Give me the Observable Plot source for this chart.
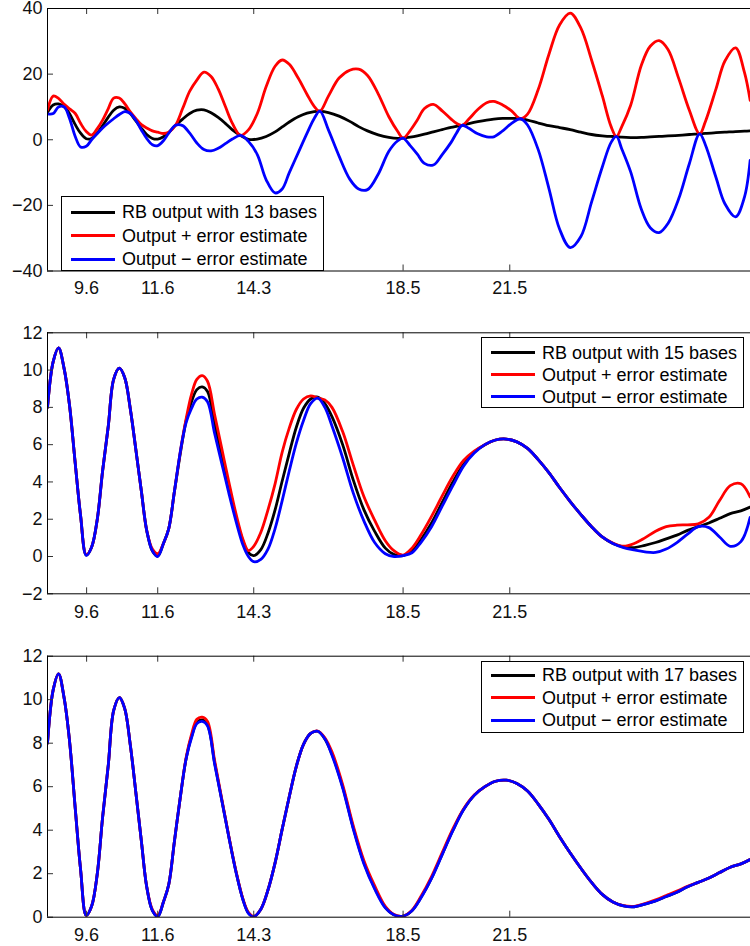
<!DOCTYPE html>
<html>
<head>
<meta charset="utf-8">
<script src="https://cdn.jsdelivr.net/npm/d3@7"></script>
<script src="https://cdn.jsdelivr.net/npm/@observablehq/plot@0.6"></script>
<style>
  html, body { margin: 0; padding: 0; background: #fff; overflow: hidden; }
  #chart { width: 750px; height: 946px; font-family: "Liberation Sans", Arial, Helvetica, sans-serif; }
  .panel { position: relative; width: 750px; overflow: hidden; }
  .panel svg { display: block; }
  .legend { position: absolute; width: 263px; background: #fff; border: 1px solid #000; box-sizing: border-box; font-size: 18px; color: #000; }
  .legend .row { position: absolute; left: 0; height: 22px; width: 100%; }
  .legend .sw { position: absolute; left: 9px; top: 9.5px; width: 44px; height: 3px; }
  .legend .tx { position: absolute; left: 60px; top: 0; line-height: 22px; white-space: nowrap; }
</style>
</head>
<body>
<div id="chart"></div>
<script>
// ---------- data ----------
const xTickValues = [9.6, 11.6, 14.3, 18.5, 21.5];
const xDomain = [8.5, 28.27];

const yTicks13 = [-40, -20, 0, 20, 40];
const yTicks15 = [-2, 0, 2, 4, 6, 8, 10, 12];
const yTicks17 = [0, 2, 4, 6, 8, 10, 12];

const labels13 = ["RB output with 13 bases", "Output + error estimate", "Output \u2212 error estimate"];
const labels15 = ["RB output with 15 bases", "Output + error estimate", "Output \u2212 error estimate"];
const labels17 = ["RB output with 17 bases", "Output + error estimate", "Output \u2212 error estimate"];

const seriesColors = ["#000000", "#ff0000", "#0000ff"];

// parameter samples, 13-basis panel
const x13 = [8.5, 8.66, 8.81, 8.97, 9.12, 9.28, 9.43, 9.59, 9.74, 9.9, 10.05, 10.21, 10.36, 10.52, 10.67, 10.83, 10.98, 11.14, 11.29, 11.45, 11.6, 11.76, 11.91, 12.1,
  12.3, 12.5, 12.7, 12.9, 13.1, 13.3, 13.5, 13.7, 13.93,
  14.15, 14.4, 14.65, 14.9, 15.1, 15.3, 15.55, 15.8, 16.0, 16.16,
  16.4, 16.7, 17.0, 17.25, 17.5, 17.8, 18.1, 18.35, 18.5,
  18.7, 18.9, 19.1, 19.35, 19.6, 19.85, 20.0, 20.16,
  20.35, 20.6, 20.85, 21.05, 21.3, 21.55, 21.8,
  22.0, 22.3, 22.6, 22.9, 23.2, 23.5, 23.8, 24.1, 24.35, 24.5,
  24.65, 24.9, 25.2, 25.45, 25.7, 25.95, 26.25, 26.55, 26.84,
  27.0, 27.3, 27.55, 27.85, 28.1, 28.26];

const out13 = [8.4, 10.6, 10.9, 10.0, 7.9, 4.6, 2.0, 0.3, 0.4, 2.0, 4.3, 6.9, 9.0, 10.0, 9.6, 8.0, 5.8, 3.5, 1.6, 0.4, 0.2, 0.9, 2.2, 4.4,
  6.3, 8.0, 9.0, 9.1, 8.2, 6.8, 5.0, 3.0, 1.3,
  0.15, 0.2, 1.0, 2.4, 3.9, 5.4, 7.0, 8.1, 8.6, 8.7,
  8.3, 7.2, 5.6, 4.0, 2.7, 1.5, 0.7, 0.4, 0.5,
  0.8, 1.2, 1.7, 2.4, 3.1, 3.8, 4.1, 4.4,
  4.9, 5.5, 6.0, 6.3, 6.5, 6.5, 6.4,
  6.0, 5.1, 4.3, 3.7, 3.1, 2.3, 1.6, 1.2, 1.0, 1.0,
  0.8, 0.65, 0.7, 0.85, 1.0, 1.15, 1.35, 1.6, 1.8,
  1.95, 2.15, 2.3, 2.5, 2.6, 2.7];

const plus13 = [9.0, 13.3, 12.6, 10.8, 9.4, 8.0, 5.0, 2.5, 1.4, 3.4, 6.0, 9.5, 12.7, 12.7, 11.0, 8.5, 6.5, 4.6, 3.6, 2.7, 2.3, 1.9, 2.3, 4.4,
  9.5, 14.8, 18.2, 20.6, 19.3, 15.5, 10.2, 5.0, 1.3,
  3.0, 8.0, 16.2, 22.4, 24.3, 23.0, 18.8, 13.8, 10.2, 8.7,
  13.3, 18.8, 21.2, 21.5, 19.6, 14.0, 7.0, 2.5, 0.5,
  2.8, 6.0, 9.5, 10.8, 8.8, 6.3, 5.0, 4.4,
  6.3, 9.2, 11.3, 11.7, 10.6, 8.8, 6.4,
  7.8, 15.3, 26.0, 35.0, 38.6, 34.0, 24.3, 13.5, 4.0, 1.0,
  4.0, 10.5, 22.7, 28.5, 30.2, 27.5, 18.7, 9.0, 1.8,
  5.5, 15.5, 24.0, 28.0, 20.5, 12.0];

const minus13 = [7.9, 8.0, 10.0, 10.0, 6.5, 1.0, -2.2, -2.0, 0.0, 1.9, 3.6, 5.1, 6.4, 7.7, 8.6, 8.0, 6.0, 3.0, 0.4, -1.5, -1.8, -0.3, 2.0, 4.4,
  4.3, 2.0, -1.0, -3.0, -3.4, -2.6, -1.2, 0.2, 1.3,
  -0.5, -4.5, -12.2, -16.2, -15.0, -10.0, -4.0, 2.0, 6.5, 8.7,
  3.0, -5.0, -12.0, -15.0, -15.2, -10.5, -3.5, -0.3, 0.5,
  -1.8, -4.4, -7.2, -7.7, -4.5, -0.8, 2.0, 4.4,
  3.5, 1.8, 0.9, 0.9, 2.7, 5.0, 6.4,
  4.5, -3.0, -14.8, -27.2, -32.9, -29.5, -19.0, -8.4, -0.8, 1.0,
  -2.8, -9.8, -21.2, -26.8, -28.3, -25.5, -18.0, -7.3, 1.8,
  -1.5, -11.5, -19.5, -23.5, -17.5, -6.3];

// parameter samples, 15- and 17-basis panels
const x15 = [8.5, 8.66, 8.81, 8.97, 9.12, 9.28, 9.43, 9.59, 9.74, 9.9, 10.05, 10.21, 10.36, 10.52, 10.67, 10.83, 10.98, 11.14, 11.29, 11.45, 11.6, 11.76, 11.91, 12.07,
  12.25, 12.4, 12.55, 12.7, 12.85, 13.0, 13.2, 13.4, 13.6, 13.8, 14.0, 14.15, 14.3,
  14.5, 14.7, 14.9, 15.1, 15.3, 15.5, 15.7, 15.9, 16.1,
  16.3, 16.5, 16.8, 17.1, 17.4, 17.7, 18.0, 18.25, 18.5, 18.75,
  19.0, 19.3, 19.6, 19.9, 20.2, 20.5, 20.8, 21.1, 21.4, 21.7, 22.0, 22.3, 22.6, 22.9, 23.2, 23.5, 23.8, 24.1, 24.4, 24.7,
  25.0, 25.3, 25.6, 25.9, 26.2, 26.5, 26.8, 27.1, 27.4, 27.7, 28.0, 28.26];

const out15 = [8.0, 10.45, 11.19, 10.05, 8.1, 5.0, 2.2, 0.08, 0.5, 2.0, 4.6, 7.0, 9.5, 10.1, 9.6, 7.9, 5.8, 3.5, 1.4, 0.3, 0.03, 0.7, 1.5, 3.5,
  5.7, 7.3, 8.3, 8.95, 9.1, 8.85, 7.1, 5.4, 3.7, 2.1, 0.8, 0.2, 0.05,
  0.37, 1.25, 2.5, 4.05, 5.55, 6.95, 7.95, 8.45, 8.55,
  8.2, 7.5, 6.0, 4.1, 2.5, 1.35, 0.45, 0.1, 0.05, 0.3,
  0.9, 1.8, 2.9, 4.0, 4.95, 5.6, 6.0, 6.25, 6.3, 6.15, 5.8, 5.2, 4.5, 3.7, 2.95, 2.25, 1.6, 1.05, 0.7, 0.52,
  0.48, 0.6, 0.75, 0.95, 1.15, 1.4, 1.6, 1.8, 2.05, 2.3, 2.45, 2.65];

const plus15 = [8.0, 10.45, 11.19, 10.05, 8.1, 5.0, 2.2, 0.1, 0.5, 2.0, 4.6, 7.0, 9.5, 10.1, 9.6, 7.9, 5.8, 3.5, 1.4, 0.4, 0.15, 0.7, 1.5, 3.5,
  5.8, 7.4, 8.7, 9.5, 9.7, 9.4, 7.6, 5.8, 4.0, 2.3, 0.9, 0.32, 0.55,
  1.3, 2.5, 3.9, 5.6, 6.9, 7.9, 8.45, 8.62, 8.5,
  8.4, 8.0, 6.7, 4.9, 3.2, 1.95, 0.85, 0.3, 0.08, 0.45,
  1.15, 2.15, 3.25, 4.3, 5.15, 5.65, 6.0, 6.25, 6.3, 6.15, 5.8, 5.2, 4.5, 3.7, 2.95, 2.25, 1.6, 1.05, 0.72, 0.55,
  0.7, 1.0, 1.35, 1.6, 1.68, 1.7, 1.75, 2.1, 3.0, 3.8, 3.9, 3.2];

const minus15 = [8.0, 10.45, 11.19, 10.05, 8.1, 5.0, 2.2, 0.06, 0.5, 2.0, 4.6, 7.0, 9.5, 10.1, 9.6, 7.9, 5.8, 3.5, 1.4, 0.3, 0.0, 0.7, 1.5, 3.5,
  5.8, 7.2, 7.95, 8.45, 8.55, 8.3, 6.6, 5.0, 3.4, 1.9, 0.6, 0.0, -0.28,
  -0.15, 0.4, 1.5, 3.0, 4.6, 6.1, 7.3, 8.2, 8.5,
  8.0, 7.0, 5.3, 3.4, 1.9, 0.75, 0.15, 0.0, 0.05, 0.2,
  0.75, 1.6, 2.7, 3.8, 4.85, 5.55, 6.0, 6.25, 6.3, 6.15, 5.8, 5.2, 4.5, 3.7, 2.95, 2.25, 1.6, 1.05, 0.7, 0.48,
  0.35, 0.25, 0.22, 0.4, 0.75, 1.2, 1.6, 1.55, 1.05, 0.55, 0.8, 2.1];

const out17 = [8.0, 10.45, 11.19, 10.05, 8.1, 5.0, 2.2, 0.08, 0.5, 2.0, 4.6, 7.0, 9.5, 10.1, 9.6, 7.9, 5.8, 3.5, 1.4, 0.3, 0.03, 0.7, 1.5, 3.5,
  5.7, 7.3, 8.3, 8.95, 9.07, 8.85, 7.1, 5.4, 3.7, 2.1, 0.8, 0.2, 0.02,
  0.37, 1.25, 2.5, 4.05, 5.55, 6.95, 7.95, 8.45, 8.55,
  8.2, 7.5, 6.0, 4.1, 2.5, 1.35, 0.45, 0.1, 0.05, 0.3,
  0.9, 1.8, 2.9, 4.0, 4.95, 5.6, 6.0, 6.25, 6.3, 6.15, 5.8, 5.2, 4.5, 3.7, 2.95, 2.25, 1.6, 1.05, 0.7, 0.52,
  0.48, 0.6, 0.75, 0.95, 1.15, 1.4, 1.6, 1.8, 2.05, 2.3, 2.45, 2.65];

const plus17 = [8.0, 10.45, 11.19, 10.05, 8.1, 5.0, 2.2, 0.08, 0.5, 2.0, 4.6, 7.0, 9.5, 10.1, 9.6, 7.9, 5.8, 3.5, 1.4, 0.35, 0.08, 0.7, 1.5, 3.5,
  5.7, 7.35, 8.4, 9.1, 9.2, 9.0, 7.2, 5.45, 3.72, 2.12, 0.82, 0.22, 0.04,
  0.37, 1.25, 2.5, 4.05, 5.55, 6.95, 7.95, 8.45, 8.56,
  8.25, 7.6, 6.1, 4.2, 2.6, 1.45, 0.5, 0.12, 0.05, 0.32,
  0.95, 1.87, 2.97, 4.06, 4.98, 5.62, 6.0, 6.25, 6.3, 6.15, 5.8, 5.2, 4.5, 3.7, 2.95, 2.25, 1.6, 1.05, 0.7, 0.53,
  0.5, 0.63, 0.8, 1.0, 1.2, 1.42, 1.6, 1.8, 2.05, 2.3, 2.45, 2.65];

const minus17 = [8.0, 10.45, 11.19, 10.05, 8.1, 5.0, 2.2, 0.08, 0.5, 2.0, 4.6, 7.0, 9.5, 10.1, 9.6, 7.9, 5.8, 3.5, 1.4, 0.3, 0.03, 0.7, 1.5, 3.5,
  5.7, 7.3, 8.25, 8.9, 9.0, 8.8, 7.05, 5.38, 3.68, 2.08, 0.78, 0.18, 0.02,
  0.37, 1.25, 2.5, 4.05, 5.55, 6.95, 7.95, 8.45, 8.55,
  8.2, 7.45, 5.95, 4.05, 2.45, 1.3, 0.43, 0.1, 0.05, 0.3,
  0.88, 1.78, 2.88, 3.98, 4.94, 5.6, 6.0, 6.25, 6.3, 6.15, 5.8, 5.2, 4.5, 3.7, 2.95, 2.25, 1.6, 1.05, 0.7, 0.52,
  0.48, 0.6, 0.75, 0.95, 1.15, 1.4, 1.6, 1.8, 2.05, 2.3, 2.45, 2.65];

// ---------- layout ----------
const W = 750, ML = 47, MR = 0, TICK = 6;
const panels = [
  {x: x13, series: [out13, plus13, minus13], labels: labels13, yDomain: [-40, 40], yTicks: yTicks13,
   height: 300, mt: 8, mb: 29.5, pad: 10, legend: {left: 61, top: 196, height: 75, rows: [15, 38.5, 62]}},
  {x: x15, series: [out15, plus15, minus15], labels: labels15, yDomain: [-2, 12], yTicks: yTicks15,
   height: 330, mt: 32.3, mb: 36.7, pad: 11, legend: {left: 481, top: 37.3, height: 71, rows: [14.4, 36.5, 58.7]}},
  {x: x15, series: [out17, plus17, minus17], labels: labels17, yDomain: [0, 12], yTicks: yTicks17,
   height: 316, mt: 25.7, mb: 29.3, pad: 11, legend: {left: 481, top: 31, height: 71.7, rows: [13.3, 35.7, 58.3]}}
];

const fmtY = d => d < 0 ? "\u2212" + Math.abs(d) : String(d);
const fmtX = d => d.toFixed(1);

const chart = document.getElementById("chart");

for (const p of panels) {
  const plotH = p.height - p.mt - p.mb;
  const plotW = W - ML - MR;
  const [y0, y1] = p.yDomain;
  const [x0, x1] = xDomain;
  // tick length expressed in data units of each scale
  const tyLen = (y1 - y0) * TICK / plotH;
  const txLen = (x1 - x0) * TICK / plotW;
  const lines = p.series.map((ys, k) =>
    Plot.line(p.x.map((x, i) => ({x, y: ys[i]})), {
      x: "x", y: "y", stroke: seriesColors[k], strokeWidth: 2.8,
      curve: "catmull-rom", clip: true
    })
  );
  const svg = Plot.plot({
    width: W, height: p.height,
    marginLeft: ML, marginRight: MR, marginTop: p.mt, marginBottom: p.mb,
    style: {fontFamily: "'Liberation Sans', Arial, Helvetica, sans-serif", fontSize: "18px", color: "#000", background: "#fff", overflow: "hidden"},
    x: {domain: xDomain},
    y: {domain: p.yDomain},
    marks: [
      ...lines,
      // inward ticks (bottom, top, left)
      Plot.ruleX(xTickValues, {x: d => d, y1: y0, y2: y0 + tyLen, stroke: "#333", strokeWidth: 1}),
      Plot.ruleX(xTickValues, {x: d => d, y1: y1 - tyLen, y2: y1, stroke: "#333", strokeWidth: 1}),
      Plot.ruleY(p.yTicks, {y: d => d, x1: x0, x2: x0 + txLen, stroke: "#333", strokeWidth: 1}),
      // box (left, top, bottom; right edge is cut off)
      Plot.ruleY(p.yDomain, {y: d => d, x1: x0, x2: x1, stroke: "#000", strokeWidth: 1}),
      Plot.ruleX([x0], {x: d => d, y1: y0, y2: y1, stroke: "#000", strokeWidth: 1}),
      Plot.axisX({ticks: xTickValues, tickFormat: fmtX, tickSize: 0, tickPadding: p.pad, fill: "#111", label: null}),
      Plot.axisY({ticks: p.yTicks, tickFormat: fmtY, tickSize: 0, tickPadding: 5, fill: "#111", label: null})
    ]
  });

  const div = document.createElement("div");
  div.className = "panel";
  div.style.height = p.height + "px";
  div.appendChild(svg);

  const lg = document.createElement("div");
  lg.className = "legend";
  lg.style.left = p.legend.left + "px";
  lg.style.top = p.legend.top + "px";
  lg.style.height = p.legend.height + "px";
  p.labels.forEach((label, k) => {
    const row = document.createElement("div");
    row.className = "row";
    row.style.top = (p.legend.rows[k] - 11) + "px";
    const sw = document.createElement("div");
    sw.className = "sw";
    sw.style.background = seriesColors[k];
    const tx = document.createElement("div");
    tx.className = "tx";
    tx.textContent = label;
    row.appendChild(sw);
    row.appendChild(tx);
    lg.appendChild(row);
  });
  div.appendChild(lg);
  chart.appendChild(div);
}
</script>
</body>
</html>
